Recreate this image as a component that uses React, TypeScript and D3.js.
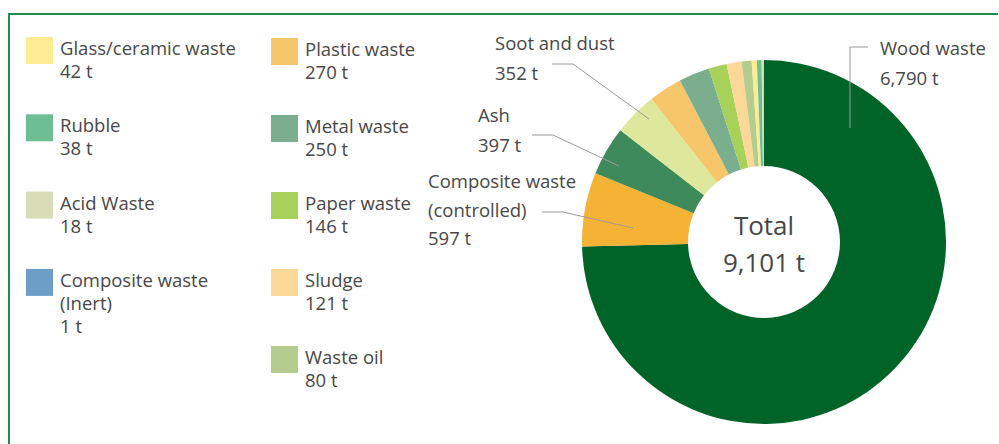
import React from "react";
import * as d3 from "d3";

const categories = [
  "Wood waste",
  "Composite waste (controlled)",
  "Ash",
  "Soot and dust",
  "Plastic waste",
  "Metal waste",
  "Paper waste",
  "Sludge",
  "Waste oil",
  "Glass/ceramic waste",
  "Rubble",
  "Acid Waste",
  "Composite waste (inert)",
];
const values = [6790, 597, 397, 352, 270, 250, 146, 121, 80, 42, 38, 18, 1];
const colors = [
  "#006428", "#f5b335", "#3f8a5a", "#dde89c", "#f8c66a", "#7aae8f",
  "#a7d158", "#fbd898", "#b4cc8e", "#fdec93", "#6dbf93", "#d8ddb7", "#6c9ec8",
];
const legendCol1 = [
  { idx: 9, lines: ["Glass/ceramic waste"], value: "42 t" },
  { idx: 10, lines: ["Rubble"], value: "38 t" },
  { idx: 11, lines: ["Acid Waste"], value: "18 t" },
  { idx: 12, lines: ["Composite waste", "(Inert)"], value: "1 t" },
];
const legendCol2 = [
  { idx: 4, lines: ["Plastic waste"], value: "270 t" },
  { idx: 5, lines: ["Metal waste"], value: "250 t" },
  { idx: 6, lines: ["Paper waste"], value: "146 t" },
  { idx: 7, lines: ["Sludge"], value: "121 t" },
  { idx: 8, lines: ["Waste oil"], value: "80 t" },
];
const totalLabel = ["Total", "9,101 t"];

const FONT = "'Open Sans', sans-serif";
const TXT = "#474747";
const FS = 18.5;

export default function App() {
  const cx = 764, cy = 242, R = 182, r = 76;
  const pie = d3.pie<number>().sort(null).startAngle(0).endAngle(Math.PI * 2);
  const arcs = pie(values);
  const arc = d3.arc<d3.PieArcDatum<number>>().innerRadius(r).outerRadius(R);

  const legend = (items: typeof legendCol1, x: number, y0: number, step: number) =>
    items.map((it, i) => {
      const y = y0 + i * step;
      return (
        <g key={it.idx}>
          <rect x={x} y={y} width={27} height={27} fill={colors[it.idx]} />
          {it.lines.concat([it.value]).map((t, j) => (
            <text key={j} x={x + 34} y={y + 18 + j * 23} fontSize={FS} fill={TXT}>
              {t}
            </text>
          ))}
        </g>
      );
    });

  const line = d3.line();

  return (
    <svg
      width={999}
      height={444}
      style={{ position: "absolute", left: 0, top: 0, background: "#fff" }}
      fontFamily={FONT}
    >
      <rect x={0} y={0} width={999} height={444} fill="#fff" />
      <path d="M9,444 V14 H998" fill="none" stroke="#1e8c4e" strokeWidth={2} />
      <g transform={`translate(${cx},${cy})`}>
        {arcs.map((a, i) => (
          <path key={i} d={arc(a) || ""} fill={colors[i]} />
        ))}
      </g>
      {legend(legendCol1, 26, 37, 77.3)}
      {legend(legendCol2, 271, 38, 77)}

      {/* pie labels */}
      <g fill={TXT} fontSize={FS}>
        <text x={495} y={50}>Soot and dust</text>
        <text x={495} y={80}>352 t</text>
        <text x={478} y={122}>Ash</text>
        <text x={478} y={152}>397 t</text>
        <text x={428} y={188}>Composite waste</text>
        <text x={428} y={217}>(controlled)</text>
        <text x={428} y={245}>597 t</text>
        <text x={880} y={55}>Wood waste</text>
        <text x={880} y={85}>6,790 t</text>
      </g>
      <g stroke="#9a9a9a" strokeWidth={1} fill="none">
        <path d={line([[552, 64], [573, 64], [649, 119]]) || ""} />
        <path d={line([[532, 135], [553, 135], [619, 166]]) || ""} />
        <path d={line([[542, 212], [563, 212], [633, 228]]) || ""} />
        <path d={line([[868, 47], [850, 47], [850, 128]]) || ""} />
      </g>
      <text x={cx} y={235} textAnchor="middle" fontSize={26} fill={TXT}>{totalLabel[0]}</text>
      <text x={cx} y={272} textAnchor="middle" fontSize={26} fill={TXT}>{totalLabel[1]}</text>
    </svg>
  );
}
